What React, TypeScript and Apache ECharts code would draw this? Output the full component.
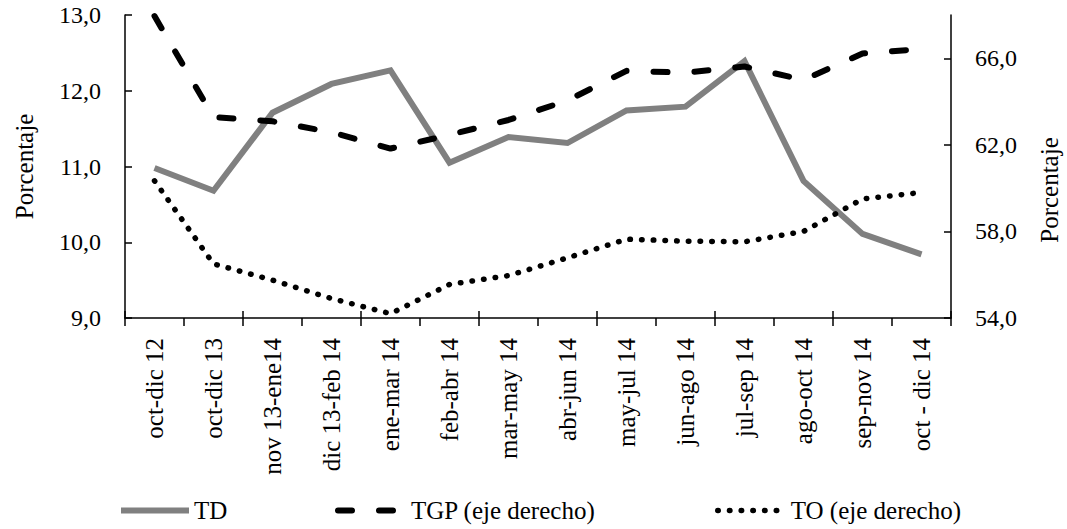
import { useEffect, useRef } from 'react'
import * as echarts from 'echarts'

const categories = [
  'oct-dic 12',
  'oct-dic 13',
  'nov 13-ene14',
  'dic 13-feb 14',
  'ene-mar 14',
  'feb-abr 14',
  'mar-may 14',
  'abr-jun 14',
  'may-jul 14',
  'jun-ago 14',
  'jul-sep 14',
  'ago-oct 14',
  'sep-nov 14',
  'oct - dic 14'
]

// TD (eje izquierdo)
const tdValues = [10.98, 10.68, 11.71, 12.09, 12.27, 11.05, 11.39, 11.31, 11.74, 11.79, 12.39, 10.81, 10.11, 9.84]
// TGP (eje derecho)
const tgpValues = [67.95, 63.28, 63.09, 62.58, 61.83, 62.46, 63.15, 64.05, 65.42, 65.34, 65.62, 65.0, 66.22, 66.43]
// TO (eje derecho)
const toValues = [60.34, 56.5, 55.75, 54.9, 54.2, 55.55, 55.96, 56.78, 57.64, 57.55, 57.52, 58.0, 59.5, 59.8]

const SERIF = 'Liberation Serif'

const fmt = (v: number) => v.toFixed(1).replace('.', ',')

const TD_STYLE = { color: '#808080', width: 6, type: 'solid' as const, cap: 'butt' as const }
const TGP_STYLE = { color: '#000', width: 6, type: [14, 27], cap: 'round' as const }
const TO_STYLE = { color: '#000', width: 5.5, type: [0.5, 11.2], cap: 'round' as const }

export default function App() {
  const chartRef = useRef<HTMLDivElement>(null)

  useEffect(() => {
    document.body.style.margin = '0'
    const host = chartRef.current
    if (!host) return
    const chart = echarts.init(host, null, { renderer: 'svg' })

    const textStyle = { fontFamily: SERIF, color: '#000', fontSize: 24 }
    const axisLine = { show: true, lineStyle: { color: '#000', width: 1.5 } }
    const tick = { show: true, inside: true, length: 7, lineStyle: { color: '#000', width: 1.5 } }

    const legendItems = [
      { name: 'TD', left: 113, style: TD_STYLE },
      { name: 'TGP (eje derecho)', left: 330, style: TGP_STYLE },
      { name: 'TO (eje derecho)', left: 710, style: TO_STYLE }
    ]

    const option: echarts.EChartsOption = {
      animation: false,
      backgroundColor: '#fff',
      textStyle: { fontFamily: SERIF },
      grid: { left: 125, right: 116, top: 15, bottom: 211 },
      legend: legendItems.map(l => ({
        data: [l.name],
        left: l.left,
        top: 493,
        itemWidth: 68,
        itemHeight: 28,
        itemGap: 0,
        itemStyle: { opacity: 0 },
        lineStyle: { width: l.style.width, type: l.style.type as any, cap: l.style.cap, color: l.style.color },
        textStyle: { ...textStyle, fontSize: 25 }
      })),
      xAxis: [
        {
          type: 'category',
          data: categories,
          boundaryGap: true,
          axisLine,
          axisTick: { ...tick, inside: false, length: 8 },
          axisLabel: { ...textStyle, fontSize: 25, rotate: 90, interval: 0, margin: 20 }
        },
        {
          type: 'category',
          data: categories,
          position: 'bottom',
          boundaryGap: true,
          axisLine: { show: false },
          axisTick: tick,
          axisLabel: { show: false }
        }
      ],
      yAxis: [
        {
          type: 'value',
          min: 9,
          max: 13,
          interval: 1,
          position: 'left',
          axisLine,
          axisTick: tick,
          splitLine: { show: false },
          axisLabel: { ...textStyle, margin: 24, formatter: (v: number) => fmt(v) },
          name: 'Porcentaje',
          nameLocation: 'middle',
          nameRotate: 90,
          nameGap: 88,
          nameTextStyle: { ...textStyle, fontSize: 25 }
        },
        {
          type: 'value',
          min: 54,
          max: 68,
          interval: 4,
          position: 'right',
          axisLine,
          axisTick: tick,
          splitLine: { show: false },
          axisLabel: { ...textStyle, margin: 24, showMaxLabel: false, formatter: (v: number) => fmt(v) }
        }
      ],
      graphic: [
        {
          type: 'text',
          x: 1049,
          y: 190,
          rotation: Math.PI / 2,
          style: {
            text: 'Porcentaje',
            fontFamily: SERIF,
            fontSize: 25,
            fill: '#000',
            align: 'center',
            verticalAlign: 'middle'
          }
        }
      ],
      series: [
        {
          name: 'TD',
          type: 'line',
          data: tdValues,
          yAxisIndex: 0,
          symbol: 'none',
          lineStyle: { ...TD_STYLE, join: 'miter' },
          itemStyle: { color: '#808080' }
        },
        {
          name: 'TGP (eje derecho)',
          type: 'line',
          data: tgpValues,
          yAxisIndex: 1,
          symbol: 'none',
          lineStyle: TGP_STYLE as any,
          itemStyle: { color: '#000' }
        },
        {
          name: 'TO (eje derecho)',
          type: 'line',
          data: toValues,
          yAxisIndex: 1,
          symbol: 'none',
          lineStyle: TO_STYLE as any,
          itemStyle: { color: '#000' }
        }
      ]
    }

    chart.setOption(option)
    return () => chart.dispose()
  }, [])

  return <div ref={chartRef} style={{ width: 1067, height: 529 }} />
}
